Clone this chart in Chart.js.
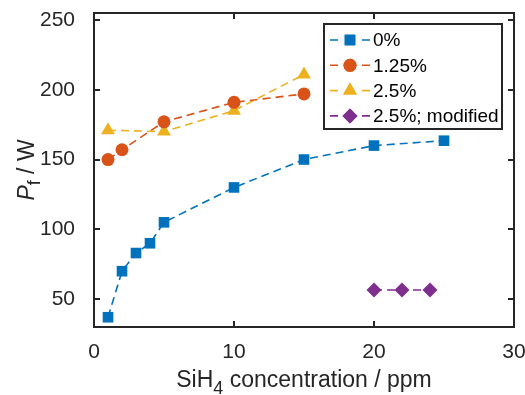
<!DOCTYPE html>
<html><head><meta charset="utf-8">
<script src="https://cdn.jsdelivr.net/npm/chart.js@4/dist/chart.umd.min.js"></script>
<style>html,body{margin:0;padding:0;background:#fff;}</style>
</head><body>
<canvas id="c" width="525" height="395"></canvas>
<script>
// ---- data ----
const x0   = [1, 2, 3, 4, 5, 10, 15, 20, 25];
const y0   = [37, 70, 83, 90, 105, 130, 150, 160, 163.5];
const x125 = [1, 2, 5, 10, 15];
const y125 = [150, 157, 177, 191, 197];
const x25  = [1, 5, 10, 15];
const y25  = [171, 170, 185, 211];
const xMod = [20, 22, 24];
const yMod = [56.5, 56.5, 56.5];
const seriesLabels = ['0%', '1.25%', '2.5%', '2.5%; modified'];
const xTicks = [0, 10, 20, 30];
const yTicks = [50, 100, 150, 200, 250];

const FONT = '"Liberation Sans", Arial, Helvetica, sans-serif';
const AX = '#262626';
const colors = ['#0072BD', '#D95319', '#EDB120', '#7E2F8E'];
const styles = ['rect', 'circle', 'triangle', 'rectRot'];
const radii  = [7.5, 6.5, 8, 7.5];

function pts(xs, ys) { return xs.map((x, i) => ({x: x, y: ys[i]})); }
const seriesData = [pts(x0, y0), pts(x125, y125), pts(x25, y25), pts(xMod, yMod)];

const datasets = seriesData.map((d, i) => ({
  label: seriesLabels[i],
  data: d,
  showLine: true,
  borderColor: colors[i],
  backgroundColor: colors[i],
  borderWidth: 1.6,
  borderDash: [8, 5],
  tension: 0,
  pointStyle: styles[i],
  pointRadius: radii[i],
  pointHoverRadius: radii[i],
  pointBorderWidth: 0,
  pointBackgroundColor: colors[i]
}));

const framePlugin = {
  id: 'frame',
  afterDraw(chart) {
    const ctx = chart.ctx, a = chart.chartArea;
    const xs = chart.scales.x, ys = chart.scales.y;
    ctx.save();
    ctx.strokeStyle = AX;
    ctx.lineWidth = 2;
    ctx.strokeRect(a.left, a.top, a.right - a.left, a.bottom - a.top);
    const L = 6;
    ctx.beginPath();
    xTicks.forEach(v => {
      const p = Math.round(xs.getPixelForValue(v));
      if (p <= a.left + 1 || p >= a.right - 1) return;
      ctx.moveTo(p, a.bottom); ctx.lineTo(p, a.bottom - L);
      ctx.moveTo(p, a.top); ctx.lineTo(p, a.top + L);
    });
    yTicks.forEach(v => {
      const p = Math.round(ys.getPixelForValue(v));
      ctx.moveTo(a.left, p); ctx.lineTo(a.left + L, p);
      ctx.moveTo(a.right, p); ctx.lineTo(a.right - L, p);
    });
    ctx.stroke();

    // axis titles
    ctx.fillStyle = AX;
    ctx.textBaseline = 'alphabetic';
    const big = '23px ' + FONT, sub = '18px ' + FONT;
    ctx.font = big;
    const w1 = ctx.measureText('SiH').width;
    const w3 = ctx.measureText(' concentration / ppm').width;
    ctx.font = sub;
    const w2 = ctx.measureText('4').width;
    const cx = (a.left + a.right) / 2;
    let sx = cx - (w1 + w2 + w3) / 2;
    const by = 387;
    ctx.font = big; ctx.fillText('SiH', sx, by);
    ctx.font = sub; ctx.fillText('4', sx + w1, by + 7);
    ctx.font = big; ctx.fillText(' concentration / ppm', sx + w1 + w2, by);

    // y title: P_f / W (P italic)
    ctx.save();
    const cy = (a.top + a.bottom) / 2;
    ctx.translate(34, cy);
    ctx.rotate(-Math.PI / 2);
    const ital = 'italic 23px ' + FONT;
    ctx.font = ital; const p1 = ctx.measureText('P').width;
    ctx.font = sub;  const p2 = ctx.measureText('f').width;
    ctx.font = big;  const p3 = ctx.measureText(' / W').width;
    let tx = -(p1 + p2 + p3) / 2;
    ctx.font = ital; ctx.fillText('P', tx, 0);
    ctx.font = sub;  ctx.fillText('f', tx + p1, 6);
    ctx.font = big;  ctx.fillText(' / W', tx + p1 + p2, 0);
    ctx.restore();

    // legend box
    const bx = 324, bY = 24, bw = 178, bh = 105;
    ctx.fillStyle = '#fff';
    ctx.fillRect(bx, bY, bw, bh);
    ctx.strokeStyle = AX; ctx.lineWidth = 2;
    ctx.strokeRect(bx, bY, bw, bh);
    ctx.font = '19px ' + FONT;
    ctx.textBaseline = 'middle';
    seriesLabels.forEach((lab, i) => {
      const ry = 40 + i * 25.3;
      ctx.strokeStyle = colors[i]; ctx.lineWidth = 1.6;
      ctx.beginPath();
      ctx.moveTo(330, ry); ctx.lineTo(338, ry);
      ctx.moveTo(362, ry); ctx.lineTo(370, ry);
      ctx.stroke();
      ctx.fillStyle = colors[i];
      Chart.helpers.drawPoint(ctx, {pointStyle: styles[i], radius: radii[i], rotation: 0, borderWidth: 0}, 350, ry);
      ctx.fill();
      ctx.fillStyle = '#000';
      ctx.fillText(lab, 373, ry + 1);
    });
    ctx.restore();
  }
};

new Chart(document.getElementById('c'), {
  type: 'scatter',
  data: { datasets: datasets },
  options: {
    responsive: false,
    animation: false,
    events: [],
    layout: { padding: { top: 13, right: 11, left: 0, bottom: 0 } },
    plugins: { legend: { display: false }, tooltip: { enabled: false } },
    scales: {
      x: {
        type: 'linear', min: 0, max: 30,
        grid: { display: false }, border: { display: false },
        afterBuildTicks: s => { s.ticks = xTicks.map(v => ({value: v})); },
        afterFit: s => { s.height = 68; s.paddingLeft = 0; s.paddingRight = 0; },
        ticks: { color: AX, font: { family: FONT, size: 21 }, padding: 5, maxRotation: 0 }
      },
      y: {
        type: 'linear', min: 30, max: 255,
        grid: { display: false }, border: { display: false },
        afterBuildTicks: s => { s.ticks = yTicks.map(v => ({value: v})); },
        afterFit: s => { s.width = 94; s.paddingTop = 0; s.paddingBottom = 0; },
        ticks: { color: AX, font: { family: FONT, size: 21 }, padding: 11 }
      }
    }
  },
  plugins: [framePlugin]
});
</script>
</body></html>
